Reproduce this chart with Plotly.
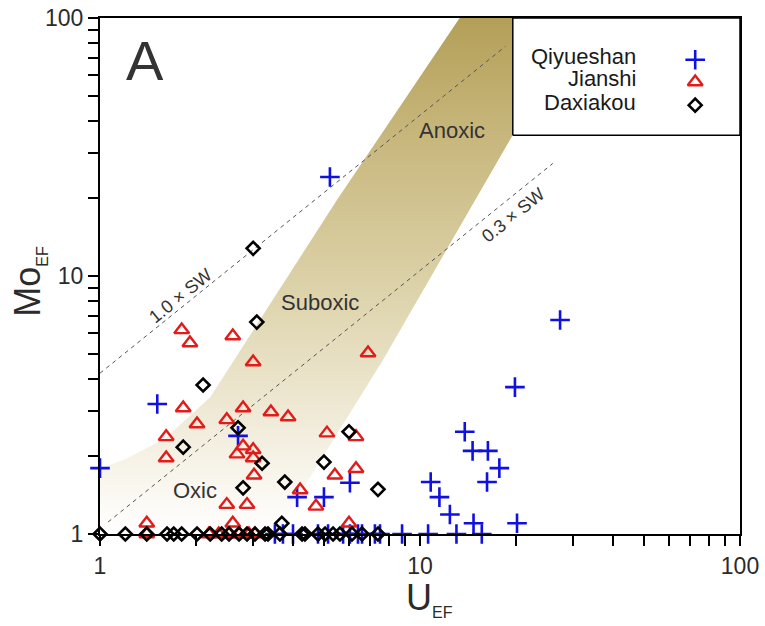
import numpy as np
import plotly.graph_objects as go

# ---- enrichment factors (U_EF, Mo_EF) by section ----
qiyueshan_u = [5.23, 27.4, 19.8, 1.51, 1.00, 2.70, 13.8, 14.6, 16.3, 17.7, 16.2, 10.8,
               11.5, 12.4, 14.7, 20.1, 6.04, 4.13, 5.01,
               3.52, 3.73, 4.01, 4.80, 5.16, 5.75, 6.04, 6.40, 6.59, 7.23, 7.50, 8.79,
               10.6, 13.0, 15.6]
qiyueshan_mo = [24.2, 6.75, 3.71, 3.19, 1.80, 2.40, 2.49, 2.10, 2.10, 1.80, 1.59, 1.59,
                1.39, 1.19, 1.10, 1.10, 1.58, 1.39, 1.39,
                1, 1, 1, 1, 1, 1, 1, 1, 1, 1, 1, 1,
                1, 1, 1]

jianshi_u = [1.80, 1.91, 2.60, 3.01, 6.88, 1.82, 2.80, 2.49, 3.42, 3.87, 2.01, 1.61,
             1.61, 2.80, 3.01, 2.68, 3.01, 3.03, 5.12, 6.31, 5.42, 6.31, 4.22, 4.73,
             6.00, 2.49, 2.88, 2.60, 1.40,
             1.40, 2.19, 2.35, 2.53, 2.72, 2.92, 3.05]
jianshi_mo = [6.18, 5.50, 5.85, 4.64, 5.03, 3.08, 3.08, 2.77, 2.97, 2.84, 2.67, 2.38,
              1.97, 2.19, 2.12, 2.04, 1.97, 1.69, 2.46, 2.38, 1.69, 1.79, 1.48, 1.28,
              1.10, 1.30, 1.30, 1.10, 1.10,
              1, 1, 1, 1, 1, 1, 1]

daxiakou_u = [3.01, 3.09, 2.10, 2.70, 1.82, 3.21, 2.80, 3.78, 6.00, 5.01, 7.39, 3.70,
              1.00, 1.20, 1.40, 1.62, 1.70, 1.80, 2.01, 2.21, 2.40, 2.53, 2.72, 2.88,
              3.05, 3.28, 3.35, 3.65, 4.28, 4.37, 4.80, 5.05, 5.35, 5.62, 6.13, 6.59, 7.39]
daxiakou_mo = [12.8, 6.63, 3.78, 2.58, 2.17, 1.88, 1.51, 1.59, 2.49, 1.90, 1.49, 1.10,
               1, 1, 1, 1, 1, 1, 1, 1, 1, 1, 1, 1,
               1, 1, 1, 1, 1, 1, 1, 1, 1, 1, 1, 1, 1]

# ---- seawater Mo/U reference lines: Mo_EF = k * U_EF over [u_start, u_end] ----
sw_labels = ["1.0 × SW", "0.3 × SW"]
sw_factor = [4.2, 1.05]
sw_u_range = [(1.0, 18.5), (1.06, 26.0)]

# ---- redox field outline (U_EF, Mo_EF) ----
band_left_u = [14.5, 13.3, 5.5, 2.21, 1.6, 1.2, 1.0, 1.0]
band_left_mo = [120, 100, 19.7, 3.39, 2.35, 1.95, 1.8, 1.0]
band_right_u = [3.6, 4.22, 7.66, 19.5, 35.0, 38.0]
band_right_mo = [1.0, 1.44, 4.73, 35.2, 100, 120]

FONT = "Arial, Liberation Sans, sans-serif"
TXT = "#2b2b2b"

fig = go.Figure()

# redox field with vertical fade
fig.add_trace(go.Scatter(
    x=band_left_u + band_right_u + band_left_u[:1],
    y=band_left_mo + band_right_mo + band_left_mo[:1],
    mode="lines", line=dict(width=0), fill="toself",
    fillgradient=dict(type="vertical",
                      colorscale=[[0.0, "#ffffff"], [0.15, "#f5f1e4"],
                                  [0.45, "#ddd3ab"], [0.75, "#c7b67b"],
                                  [1.0, "#b09b52"]]),
    hoverinfo="skip", showlegend=False))

# seawater lines
for k, (u0, u1) in zip(sw_factor, sw_u_range):
    fig.add_trace(go.Scatter(
        x=[u0, u1], y=[k * u0, k * u1], mode="lines",
        line=dict(color="#555555", width=1, dash="4px,4px"),
        hoverinfo="skip", showlegend=False))

# samples
series = [
    ("Qiyueshan", qiyueshan_u, qiyueshan_mo,
     dict(symbol="cross-thin", size=14, line=dict(color="#1010e0", width=2.6))),
    ("Jianshi", jianshi_u, jianshi_mo,
     dict(symbol="triangle-up-open", size=13, color="#e21b1b", line=dict(color="#e21b1b", width=2.4))),
    ("Daxiakou", daxiakou_u, daxiakou_mo,
     dict(symbol="diamond-open", size=10, color="#000000", line=dict(color="#000000", width=2.6))),
]
for name, u, mo, mk in series:
    fig.add_trace(go.Scatter(x=u, y=mo, mode="markers", name=name, marker=mk,
                             cliponaxis=False, showlegend=False))

# legend panel drawn on an overlay frame (0..1 in both directions)
box_x = [0.645, 1.0, 1.0, 0.645, 0.645]
box_y = [0.773, 0.773, 1.0, 1.0, 0.773]
fig.add_trace(go.Scatter(x=box_x, y=box_y, xaxis="x2", yaxis="y2", mode="lines",
                         fill="toself", fillcolor="white",
                         line=dict(color="black", width=1.5),
                         hoverinfo="skip", showlegend=False))
legend_y = [0.919, 0.876, 0.831]
for (name, u, mo, mk), ly in zip(series, legend_y):
    fig.add_trace(go.Scatter(x=[0.930], y=[ly], xaxis="x2", yaxis="y2", mode="markers",
                             marker=mk, hoverinfo="skip", showlegend=False,
                             cliponaxis=False))
    fig.add_annotation(x=0.841, y=ly + 0.006, xref="x2", yref="y2", text=name,
                       showarrow=False, xanchor="right", yanchor="middle",
                       font=dict(family=FONT, size=22, color="#1a1a1a"))

# field labels
for text, u, mo in [("Anoxic", 12.6, 36.7), ("Suboxic", 4.87, 7.86), ("Oxic", 1.98, 1.48)]:
    fig.add_annotation(x=np.log10(u), y=np.log10(mo), text=text, showarrow=False,
                       xanchor="center", yanchor="middle",
                       font=dict(family=FONT, size=22, color="#333333"))

# seawater line labels
for text, u, mo in zip(sw_labels, [1.78, 19.6], [8.4, 17.2]):
    fig.add_annotation(x=np.log10(u), y=np.log10(mo), text=text, showarrow=False,
                       xanchor="center", yanchor="middle",
                       textangle=-39, font=dict(family=FONT, size=18, color="#333333"))

# panel letter
fig.add_annotation(x=0.0703, y=0.918, xref="paper", yref="paper", text="A",
                   showarrow=False, xanchor="center", yanchor="middle",
                   font=dict(family=FONT, size=56, color="#333333"))

# axis titles
fig.add_annotation(x=0.515, y=-0.125, xref="paper", yref="paper",
                   text="U<sub><span style='font-size:16px'>EF</span></sub>",
                   showarrow=False, xanchor="center", yanchor="middle",
                   font=dict(family=FONT, size=36, color=TXT))
fig.add_annotation(x=-0.11, y=0.49, xref="paper", yref="paper",
                   text="Mo<sub><span style='font-size:16px'>EF</span></sub>",
                   showarrow=False, textangle=-90, xanchor="center", yanchor="middle",
                   font=dict(family=FONT, size=36, color=TXT))

axis_common = dict(
    type="log", showgrid=False, zeroline=False, automargin=False,
    showline=True, linecolor="black", linewidth=2, mirror=True,
    ticks="outside", ticklen=10, tickwidth=2, tickcolor="black",
    tickvals=[1, 10, 100], ticktext=["1", "10", "100"],
    tickfont=dict(family=FONT, size=23, color=TXT),
    minor=dict(ticks="outside", ticklen=10, tickwidth=2, tickcolor="black",
               tickvals=[m * d for d in (1, 10) for m in range(2, 10)], showgrid=False),
)

fig.update_layout(
    width=765, height=626,
    margin=dict(l=100, r=25, t=18, b=92, autoexpand=False),
    paper_bgcolor="white", plot_bgcolor="white",
    showlegend=False,
    xaxis=dict(range=[0, 2], **axis_common),
    yaxis=dict(range=[0, 2], **axis_common),
    xaxis2=dict(overlaying="x", range=[0, 1], visible=False, fixedrange=True),
    yaxis2=dict(overlaying="y", range=[0, 1], visible=False, fixedrange=True),
)

fig.write_html("out.html")
